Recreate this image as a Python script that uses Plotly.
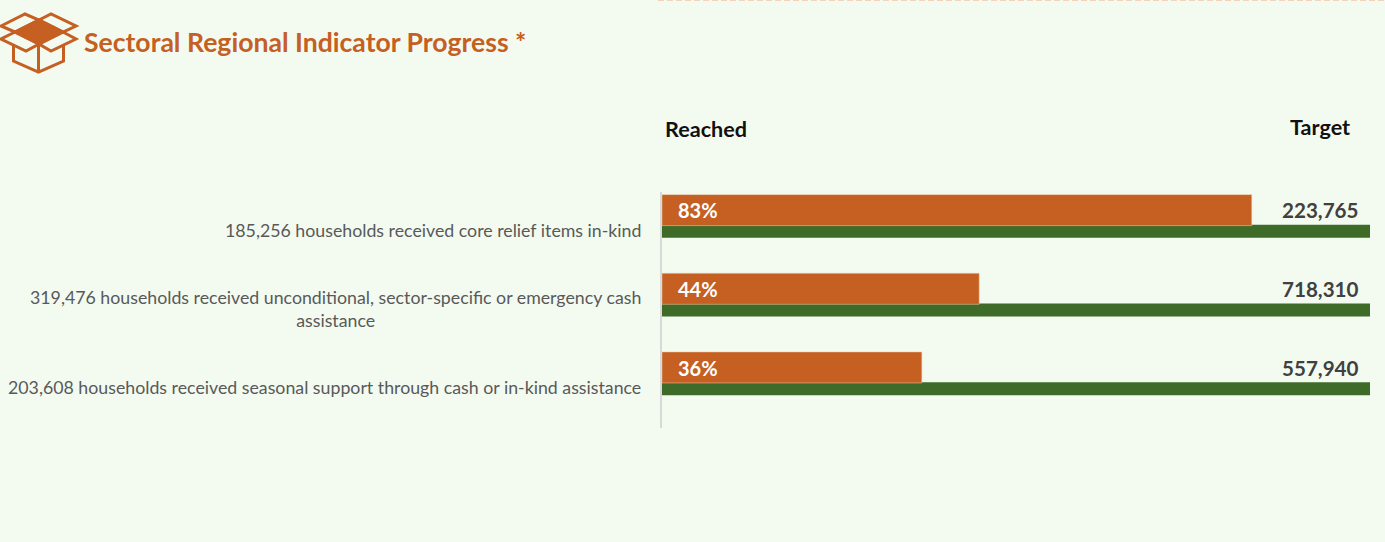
import plotly.graph_objects as go

categories = [
    "185,256 households received core relief items in-kind",
    "319,476 households received unconditional, sector-specific or emergency cash<br>assistance",
    "203,608 households received seasonal support through cash or in-kind assistance",
]
keys = ["core", "cash", "seasonal"]
reached_pct = [83.3, 44.8, 36.7]
target_pct = [100, 100, 100]
pct_labels = ["83%", "44%", "36%"]
target_labels = ["223,765", "718,310", "557,940"]

W, H = 1385, 542
L, R, T, B = 662, 1370, 192, 428
ORANGE = "#C55F22"
GREEN = "#3E6B28"
BG = "#F3FBF1"
FONT = "Lato"
BAND = (B - T) / 3


def px(x):
    return (x - L) / (R - L)


def py(y):
    return (B - y) / (B - T)


def path(points, close=True):
    s = "M " + " L ".join(f"{px(x):.5f},{py(y):.5f}" for x, y in points)
    return s + (" Z" if close else "")


fig = go.Figure()
fig.add_bar(
    y=keys, x=target_pct, orientation="h", marker=dict(color=GREEN, line_width=0),
    width=13 / BAND, offset=-6.5 / BAND, hoverinfo="skip", name="Target",
)
fig.add_bar(
    y=keys, x=reached_pct, orientation="h",
    marker=dict(color=ORANGE, line=dict(color="rgba(232,201,168,0.55)", width=1)),
    width=31 / BAND, offset=-36.7 / BAND, hoverinfo="skip", name="Reached",
)

ann = []
for k, cat, p, t in zip(keys, categories, pct_labels, target_labels):
    ann.append(dict(x=0, y=k, xref="x", yref="y", text=cat, showarrow=False, xanchor="right",
                    xshift=-19, align="center", font=dict(family=FONT, size=17.75, color="#595959"),
                    yshift=1.5))
    ann.append(dict(x=0, y=k, xref="x", yref="y", text=f"<b>{p}</b>", showarrow=False, xanchor="left",
                    xshift=14, yshift=21, font=dict(family=FONT, size=20, color="white")))
    ann.append(dict(x=100, y=k, xref="x", yref="y", text=f"<b>{t}</b>", showarrow=False, xanchor="right",
                    xshift=-9, yshift=21, font=dict(family=FONT, size=20.6, color="#404040")))

ann.append(dict(x=px(82), y=py(42), xref="paper", yref="paper", showarrow=False, xanchor="left", yanchor="middle",
                text="<b>Sectoral Regional Indicator Progress *</b>",
                font=dict(family=FONT, size=26.6, color=ORANGE)))
ann.append(dict(x=px(706), y=py(128.5), xref="paper", yref="paper", showarrow=False, xanchor="center", yanchor="middle",
                text="<b>Reached</b>", font=dict(family=FONT, size=21.6, color="#111111")))
ann.append(dict(x=px(1320), y=py(127), xref="paper", yref="paper", showarrow=False, xanchor="center", yanchor="middle",
                text="<b>Target</b>", font=dict(family=FONT, size=21.6, color="#111111")))

icon_line = dict(color=ORANGE, width=3)
shapes = []
for pts in [
    [(1, 26), (25, 14), (39, 20), (15, 32)],
    [(39, 20), (51, 14), (76, 26), (63, 32)],
    [(15, 32), (1, 39), (26, 51), (39, 44)],
    [(63, 32), (76, 39), (51, 51), (39, 44)],
]:
    shapes.append(dict(type="path", xref="paper", yref="paper", path=path(pts), line=icon_line))
shapes.append(dict(type="path", xref="paper", yref="paper",
                   path=path([(15, 32), (39, 20), (63, 32), (39, 44)]),
                   fillcolor=ORANGE, line=icon_line))
shapes.append(dict(type="path", xref="paper", yref="paper",
                   path=path([(13.5, 45), (13.5, 61), (38.5, 72), (63.5, 61), (63.5, 45)], close=False),
                   line=icon_line))
shapes.append(dict(type="path", xref="paper", yref="paper",
                   path=path([(38.5, 44), (38.5, 72)], close=False), line=icon_line))
shapes.append(dict(type="line", xref="paper", yref="paper", x0=px(658), x1=px(1385), y0=py(0), y1=py(0),
                   line=dict(color="#F5D2BA", width=2, dash="6px,3px")))

fig.update_layout(
    width=W, height=H, autosize=False, barmode="overlay", showlegend=False,
    paper_bgcolor=BG, plot_bgcolor=BG,
    margin=dict(l=L, r=W - R, t=T, b=H - B, pad=0),
    xaxis=dict(range=[0, 100], visible=False, fixedrange=True),
    yaxis=dict(categoryorder="array", categoryarray=keys, autorange="reversed", showticklabels=False,
               ticks="", showgrid=False, zeroline=False, showline=True, linecolor="#D9D9D9", linewidth=2,
               fixedrange=True),
    annotations=ann, shapes=shapes,
)
fig.write_html("out.html", config=dict(displayModeBar=False),
               post_script="document.body.style.margin='0';document.body.style.background='%s';document.body.style.overflow='hidden';" % BG)
